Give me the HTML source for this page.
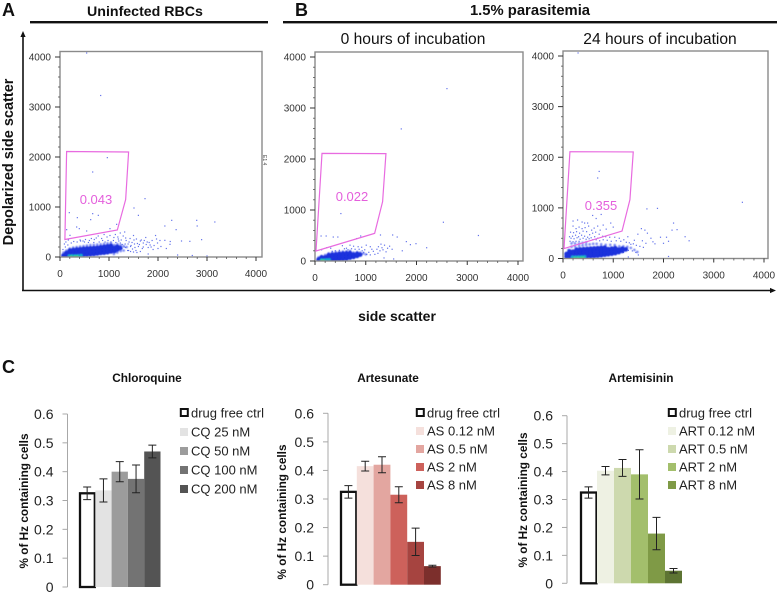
<!DOCTYPE html>
<html lang="en">
<head>
<meta charset="utf-8">
<title>Flow cytometry and hemozoin bar charts</title>
<style>
html,body{margin:0;padding:0;background:#fff;width:778px;height:595px;overflow:hidden}
svg{display:block;filter:blur(0.3px)}
text{font-family:"Liberation Sans",sans-serif}
</style>
</head>
<body>
<svg id="fig" width="778" height="595" viewBox="0 0 778 595" xmlns="http://www.w3.org/2000/svg">
<text x="2" y="16" font-size="18" font-weight="bold" fill="#111">A</text>
<text x="295" y="16" font-size="18" font-weight="bold" fill="#111">B</text>
<text x="2" y="373" font-size="18" font-weight="bold" fill="#111">C</text>
<text x="145" y="16" font-size="14.2" font-weight="bold" text-anchor="middle" fill="#111">Uninfected RBCs</text>
<text x="530" y="15" font-size="14.8" font-weight="bold" text-anchor="middle" fill="#111">1.5% parasitemia</text>
<rect x="30" y="21" width="238" height="2.4" fill="#111"/>
<rect x="283" y="21" width="494" height="2.4" fill="#111"/>
<text x="413" y="44" font-size="15.6" text-anchor="middle" fill="#111">0 hours of incubation</text>
<text x="660" y="44" font-size="15.6" text-anchor="middle" fill="#111">24 hours of incubation</text>
<text transform="translate(13,162) rotate(-90)" font-size="14.5" font-weight="bold" text-anchor="middle" fill="#111">Depolarized side scatter</text>
<text x="397" y="321" font-size="14" font-weight="bold" text-anchor="middle" fill="#111">side scatter</text>
<path d="M23 290.5V36" stroke="#111" stroke-width="1.6" fill="none"/>
<path d="M23 31l-2.6 6h5.2z" fill="#111"/>
<path d="M22 290.5H771" stroke="#111" stroke-width="1.6" fill="none"/>
<path d="M776 290.5l-6-2.6v5.2z" fill="#111"/>
<text transform="translate(263,155) rotate(90)" font-size="5" fill="#444">E1 4</text>
<g id="plots"></g>
<g id="bars"></g>
</svg>
<script>
// Scatter tick values
var scatterTicks = [0, 1000, 2000, 3000, 4000];
var gateX = [135, 1400, 1340, 1170, 100];
var gateY = [2110, 2100, 1150, 540, 350];
var gateXB = [138, 1398, 1332, 1175, 20];
var gateYB = [2110, 2105, 1163, 542, 196];

// Panel A events
var aSparse = [[544,4080],[830,3230],[966,1987],[667,1700],[1735,1167],[1510,980],[190,887],[354,787],[667,867],[782,833],[626,747],[1600,833],[2280,733],[2790,733],[3160,700],[2800,620],[2140,620],[2370,547],[2890,347],[2480,320],[2650,313],[2245,253],[2140,333],[340,600],[394,567],[136,547],[204,433],[544,520],[1156,653],[1020,567],[1320,500],[1230,480],[1500,430],[1430,370],[1560,360],[1640,320],[1700,280],[1760,250],[1800,190],[1880,330],[1950,430],[1990,280],[2060,210],[2170,170],[1900,150],[1680,170],[1600,210],[1520,260],[1480,160],[1380,130],[1410,300],[1340,380],[1290,420],[1180,400],[1100,390],[960,400],[850,370],[780,420],[700,350],[600,330],[500,300],[420,320],[1250,340],[1200,320],[1330,260],[1450,230],[1550,130],[1750,390],[1840,240],[2000,170],[2250,310],[1130,450],[1020,430],[900,450],[120,300],[90,260],[170,340],[1800,60],[2400,40],[2700,30],[3000,20],[60,150],[110,200],[160,240],[230,280],[280,310],[350,300],[410,340],[470,320],[520,350],[580,290],[640,370],[690,290],[740,380],[800,300],[870,330],[920,300],[980,330],[1040,300],[1090,330],[1140,290],[1190,360],[1230,280],[1270,250],[1310,200],[1350,330],[1390,260],[1440,210],[1470,290],[1510,340],[1530,190],[1580,270],[1620,250],[1660,340],[1700,200],[1720,330],[1780,300],[1820,290],[1860,200],[1920,230],[1970,360],[2040,330],[1260,170],[1340,190],[1400,130],[1440,110],[1500,100],[1570,90],[1640,110]];
var aOuter = [[70,90],[130,130],[200,170],[270,190],[340,200],[410,210],[480,220],[550,230],[620,240],[690,245],[760,250],[830,255],[900,265],[970,275],[1040,280],[1110,240],[1170,260],[1240,240],[1300,220],[1360,200],[1300,130],[1240,120],[1170,90],[1100,60]];
var aDense = [[70,30],[130,35],[130,80],[200,30],[200,85],[200,130],[270,35],[270,90],[270,140],[340,35],[340,90],[340,150],[410,40],[410,95],[410,155],[480,45],[480,100],[480,165],[550,50],[550,105],[550,170],[620,55],[620,110],[620,175],[690,60],[690,120],[690,180],[760,70],[760,125],[760,185],[830,80],[830,135],[830,195],[900,85],[900,145],[900,205],[970,95],[970,155],[970,215],[1040,110],[1040,170],[1040,225],[1110,120],[1110,180],[1170,150],[1170,205],[1230,180]];
var aCore = [[190,22],[250,20],[310,20],[370,24],[430,28]];
var aBright = [[230,14],[300,12],[350,14]];

// Panel B 0 h events
var bSparse = [[2600,3380],[1700,2590],[510,930],[2530,760],[3220,500],[120,490],[220,490],[360,470],[450,470],[900,490],[820,440],[1290,510],[1530,510],[1620,470],[1800,380],[1990,340],[1880,320],[2200,260],[1720,200],[1520,230],[1430,250],[1370,310],[1300,330],[1250,280],[1220,230],[1150,190],[1090,280],[1010,310],[920,270],[850,280],[760,290],[690,310],[620,250],[540,300],[1400,180],[1470,290],[1550,40],[1360,60],[1180,130],[1060,170],[310,250],[230,260],[130,220],[1320,260],[1340,220],[1280,200],[1240,150],[1120,230],[980,220],[930,200],[870,230],[1020,130],[1090,120],[960,170],[790,230],[720,240],[650,220],[580,240],[480,210],[400,200],[340,190]];
var bOuter = [[70,70],[130,100],[200,120],[270,150],[340,165],[410,175],[480,180],[550,185],[620,190],[690,195],[760,165],[830,175],[890,165],[950,150],[1000,130]];
var bDense = [[70,30],[130,30],[130,70],[200,25],[200,70],[270,30],[270,75],[270,115],[340,30],[340,80],[340,125],[410,35],[410,85],[410,130],[480,40],[480,90],[480,140],[550,45],[550,95],[550,145],[620,50],[620,100],[620,150],[690,65],[690,110],[690,155],[760,80],[760,125],[830,100],[830,140],[890,125]];
var bCore = [[130,18],[180,16],[230,20],[280,24]];
var bBright = [[130,8],[170,8]];

// Panel B 24 h events
var cSparse = [[3570,1110],[720,1720],[690,1590],[1670,980],[1880,990],[2200,700],[2270,570],[2170,560],[2430,430],[2510,350],[1560,590],[1630,560],[1680,500],[1750,400],[1790,330],[1830,290],[1940,420],[2000,300],[2060,420],[2100,340],[1650,300],[1580,350],[1490,480],[1420,360],[1350,280],[1290,430],[200,740],[290,760],[380,720],[430,700],[490,700],[590,850],[660,790],[760,870],[800,660],[860,580],[950,700],[1000,620],[200,640],[260,590],[320,620],[380,590],[440,610],[510,640],[570,560],[620,600],[690,640],[740,560],[150,520],[210,510],[270,530],[330,500],[400,540],[470,530],[530,470],[590,500],[650,520],[720,480],[790,440],[850,430],[930,420],[1030,420],[130,430],[190,440],[250,460],[310,430],[370,460],[430,440],[490,420],[560,410],[630,430],[690,400],[1120,400],[1210,370],[2100,40],[1300,30],[1500,70],[300,4060],[160,400],[220,390],[280,410],[340,380],[400,400],[460,380],[520,390],[590,370],[660,370],[730,350],[800,370],[880,360],[960,340],[1060,350],[1150,340],[1260,320],[1320,310],[1400,290],[1460,260],[1530,240],[1600,220],[1300,160],[1380,150],[1450,120],[1200,120],[140,340],[200,330],[260,340],[320,340]];
var cOuter = [[110,170],[170,230],[170,300],[240,240],[240,300],[320,250],[320,300],[390,260],[390,310],[460,270],[460,320],[530,280],[600,290],[670,290],[760,280],[850,270],[940,270],[1030,265],[1120,240],[1200,240],[1280,230],[1350,210],[1420,170],[1480,130]];
var cDense = [[70,40],[70,90],[130,40],[130,90],[130,140],[200,35],[200,85],[200,135],[270,35],[270,85],[270,135],[270,175],[340,35],[340,85],[340,135],[340,180],[410,40],[410,90],[410,140],[410,185],[480,45],[480,95],[480,145],[480,190],[550,45],[550,100],[550,150],[550,195],[620,50],[620,105],[620,155],[620,200],[690,55],[690,110],[690,160],[690,205],[760,65],[760,115],[760,165],[760,210],[830,75],[830,125],[830,175],[830,215],[900,85],[900,135],[900,185],[970,95],[970,145],[970,195],[1040,105],[1040,155],[1040,205],[1110,125],[1110,175],[1180,150],[1180,195],[1250,180]];
var cCore = [[190,25],[250,25],[310,28],[370,30],[430,32]];
var cBright = [[230,14],[290,14],[350,16],[400,18]];

// Bar chart values
var barTicks = [0, 0.1, 0.2, 0.3, 0.4, 0.5, 0.6];
var barTickLabels = ["0", "0.1", "0.2", "0.3", "0.4", "0.5", "0.6"];
var cqValues = [0.325, 0.335, 0.40, 0.375, 0.47];
var cqErrors = [0.022, 0.040, 0.035, 0.048, 0.022];
var asValues = [0.325, 0.415, 0.42, 0.315, 0.15, 0.065];
var asErrors = [0.022, 0.017, 0.028, 0.028, 0.048, 0.003];
var artValues = [0.325, 0.403, 0.413, 0.39, 0.178, 0.045];
var artErrors = [0.02, 0.015, 0.03, 0.088, 0.058, 0.008];
var cqLegend = ["drug free ctrl", "CQ 25 nM", "CQ 50 nM", "CQ 100 nM", "CQ 200 nM"];
var asLegend = ["drug free ctrl", "AS 0.12 nM", "AS 0.5 nM", "AS 2 nM", "AS 8 nM"];
var artLegend = ["drug free ctrl", "ART 0.12 nM", "ART 0.5 nM", "ART 2 nM", "ART 8 nM"];

var NS = "http://www.w3.org/2000/svg";
function mk(tag, parent, attrs, txt) {
  var e = document.createElementNS(NS, tag);
  for (var k in attrs) e.setAttribute(k, attrs[k]);
  if (txt !== undefined) e.textContent = txt;
  parent.appendChild(e);
  return e;
}

function drawScatter(o) {
  var root = document.getElementById("plots");
  var g = mk("g", root, {});
  
  
  var sx = function (v) { return o.x0 + (v / 4000) * (o.x4 - o.x0); };
  var sy = function (v) { return o.y0 - (v / 4000) * (o.y0 - o.y4); };
  var clipId = o.name + "-clip";
  var defs = mk("defs", g, {});
  var cp = mk("clipPath", defs, {id: clipId});
  mk("rect", cp, {x: o.fx, y: o.ft, width: o.fr - o.fx, height: o.fb - o.ft});
  var blur = mk("filter", defs, {id: o.name + "-blur", x: "-10%", y: "-10%", width: "120%", height: "120%"});
  mk("feGaussianBlur", blur, {stdDeviation: "0.5"});
  var marks = mk("g", g, {"clip-path": "url(#" + clipId + ")"});

  o.sparse.forEach(function (p) {
    var d = mk("rect", marks, {x: sx(p[0]) - 0.6, y: sy(p[1]) - 0.6, width: 1.2, height: 1.2, fill: "#3c50e6", opacity: 0.8});
    
    
  });
  var cloud = mk("g", marks, {filter: "url(#" + o.name + "-blur)"});
  o.outer.forEach(function (p) {
    var d = mk("circle", cloud, {cx: sx(p[0]), cy: sy(p[1]), r: 1.3, fill: "#4a5eee", opacity: 0.7});
    
    
  });
  o.dense.forEach(function (p) {
    var d = mk("circle", cloud, {cx: sx(p[0]), cy: sy(p[1]), r: 2.3, fill: "#1a30dc"});
    
    
  });
  o.core.forEach(function (p) {
    var d = mk("circle", cloud, {cx: sx(p[0]), cy: sy(p[1]), r: 1.7, fill: "#14a8d0"});
    
    
  });
  o.bright.forEach(function (p) {
    var d = mk("circle", cloud, {cx: sx(p[0]), cy: sy(p[1]), r: 1.2, fill: "#3fd878"});
    
    
  });

  var frame = mk("rect", g, {x: o.fx, y: o.ft, width: o.fr - o.fx, height: o.fb - o.ft, fill: "none", stroke: "#8a8a8a", "stroke-width": 1.4});
  
  

  scatterTicks.forEach(function (t, i) {
    var xt = mk("path", g, {d: "M" + sx(t) + " " + o.fb + "v4", stroke: "#333", "stroke-width": 1});
    
    
    var yt = mk("path", g, {d: "M" + (o.fx - 5) + " " + sy(t) + "h5", stroke: "#333", "stroke-width": 1});
    
    
    var xl = mk("text", g, {x: sx(t), y: o.fb + 20, "font-size": 10, "text-anchor": "middle", fill: "#333"}, String(t));
    
    
    var yl = mk("text", g, {x: o.fx - 9, y: sy(t) + 3.5, "font-size": 10, "text-anchor": "end", fill: "#333"}, String(t));
    
    
    if (i < scatterTicks.length - 1) {
      [0.2, 0.4, 0.6, 0.8].forEach(function (f) {
        var v = t + f * 1000;
        var mx = mk("path", g, {d: "M" + sx(v) + " " + o.fb + "v2", stroke: "#555", "stroke-width": 0.8});
        
        
        var my = mk("path", g, {d: "M" + (o.fx - 2) + " " + sy(v) + "h2", stroke: "#555", "stroke-width": 0.8});
        
        
      });
    }
  });

  var pts = o.gx.map(function (v, i) { return sx(v) + "," + sy(o.gy[i]); }).join(" ");
  var gate = mk("polygon", g, {points: pts, fill: "none", stroke: "#e86be0", "stroke-width": 1.2});
  
  
  var lab = mk("text", g, {x: o.lx, y: o.ly, "font-size": 13, "text-anchor": "middle", fill: "#e45fdc"}, o.label);
  
  
}

drawScatter({name: "scatter-uninfected", x0: 60, x4: 256, y0: 257, y4: 57, fx: 60, fr: 262, ft: 51.5, fb: 257, gx: gateX, gy: gateY, sparse: aSparse, outer: aOuter, dense: aDense, core: aCore, bright: aBright, label: "0.043", lx: 96, ly: 204});
drawScatter({name: "scatter-zero-hours", x0: 315, x4: 518, y0: 261, y4: 57, fx: 315, fr: 523, ft: 52, fb: 261, gx: gateXB, gy: gateYB, sparse: bSparse, outer: bOuter, dense: bDense, core: bCore, bright: bBright, label: "0.022", lx: 352, ly: 201});
drawScatter({name: "scatter-twentyfour-hours", x0: 563, x4: 764, y0: 258.5, y4: 56, fx: 563, fr: 768, ft: 51, fb: 258.5, gx: gateXB, gy: gateYB, sparse: cSparse, outer: cOuter, dense: cDense, core: cCore, bright: cBright, label: "0.355", lx: 601, ly: 210});

function drawBars(o) {
  var root = document.getElementById("bars");
  var g = mk("g", root, {});
  
  
  var sy = function (v) { return o.y0 - (v / 0.6) * (o.y0 - o.y6); };
  var bx = function (i) { return o.barStart + i * o.barW; };

  var title = mk("text", g, {x: o.titleX, y: 382, "font-size": 11.8, "font-weight": "bold", "text-anchor": "middle", fill: "#111"}, o.title);
  
  
  var yt = mk("text", g, {transform: "translate(" + o.ytX + "," + o.ytY + ") rotate(-90)", "font-size": 11.8, "font-weight": "bold", "text-anchor": "middle", fill: "#111"}, "% of Hz containing cells");
  
  

  var axis = mk("path", g, {d: "M" + o.axisX + " " + sy(0.6) + "V" + sy(0), stroke: "#a8a8a8", "stroke-width": 1, fill: "none"});
  
  
  barTicks.forEach(function (t, i) {
    var tk = mk("path", g, {d: "M" + (o.axisX - 5) + " " + sy(t) + "H" + o.axisX, stroke: "#a8a8a8", "stroke-width": 1});
    
    
    var tl = mk("text", g, {x: o.axisX - 14, y: sy(t) + 5, "font-size": 14, "text-anchor": "end", fill: "#222"}, barTickLabels[i]);
    
    
  });

  o.values.forEach(function (v, i) {
    var r;
    if (i === 0) {
      r = mk("rect", g, {x: bx(0) + 1, y: sy(v), width: o.barW - 1.5, height: sy(0) - sy(v), fill: "#fff", stroke: "#111", "stroke-width": 2.3});
    } else {
      r = mk("rect", g, {x: bx(i), y: sy(v), width: o.barW, height: sy(0) - sy(v), fill: o.colors[i]});
    }
    
    
    var cx = bx(i) + o.barW / 2;
    var hi = sy(v + o.errors[i]);
    var lo = sy(v - o.errors[i]);
    var e = mk("path", g, {d: "M" + cx + " " + hi + "V" + lo + "M" + (cx - 4) + " " + hi + "h8M" + (cx - 4) + " " + lo + "h8", stroke: "#222", "stroke-width": 1, fill: "none"});
    
    
  });

  o.legend.forEach(function (t, i) {
    var ly = o.legendY + i * o.legendGap;
    var sw;
    if (i === 0) {
      sw = mk("rect", g, {x: o.legendX + 0.8, y: ly - 4, width: 7, height: 7, fill: "#fff", stroke: "#111", "stroke-width": 2});
    } else {
      sw = mk("rect", g, {x: o.legendX, y: ly - 4, width: 8, height: 8, fill: o.legendColors[i]});
    }
    
    
    var lt = mk("text", g, {x: o.legendX + 11, y: ly + 4.5, "font-size": 13, fill: "#222"}, t);
    
    
  });
}

drawBars({name: "chart-chloroquine", title: "Chloroquine", titleX: 147, ytX: 28, ytY: 501, axisX: 67.5, y0: 587, y6: 414, barStart: 79, barW: 16.3, values: cqValues, errors: cqErrors, colors: ["#fff", "#e3e3e3", "#9c9c9c", "#737373", "#545454"], legend: cqLegend, legendColors: ["#fff", "#e3e3e3", "#9c9c9c", "#737373", "#545454"], legendX: 180, legendY: 413, legendGap: 19});
drawBars({name: "chart-artesunate", title: "Artesunate", titleX: 388, ytX: 286, ytY: 512, axisX: 328, y0: 584.7, y6: 413.3, barStart: 340, barW: 16.8, values: asValues, errors: asErrors, colors: ["#fff", "#f5e0dc", "#e3a6a0", "#cd615b", "#a64440", "#7c2f2c"], legend: asLegend, legendColors: ["#fff", "#f5e0dc", "#e3a6a0", "#cd615b", "#a64440"], legendX: 416, legendY: 413, legendGap: 18});
drawBars({name: "chart-artemisinin", title: "Artemisinin", titleX: 641, ytX: 527, ytY: 500, axisX: 567, y0: 583.3, y6: 415.7, barStart: 580, barW: 17, values: artValues, errors: artErrors, colors: ["#fff", "#eef1e3", "#cdd9ae", "#a3bf6c", "#7f9a46", "#5d7433"], legend: artLegend, legendColors: ["#fff", "#eef1e3", "#cdd9ae", "#a3bf6c", "#7f9a46"], legendX: 668, legendY: 413, legendGap: 18});
</script>
</body>
</html>
